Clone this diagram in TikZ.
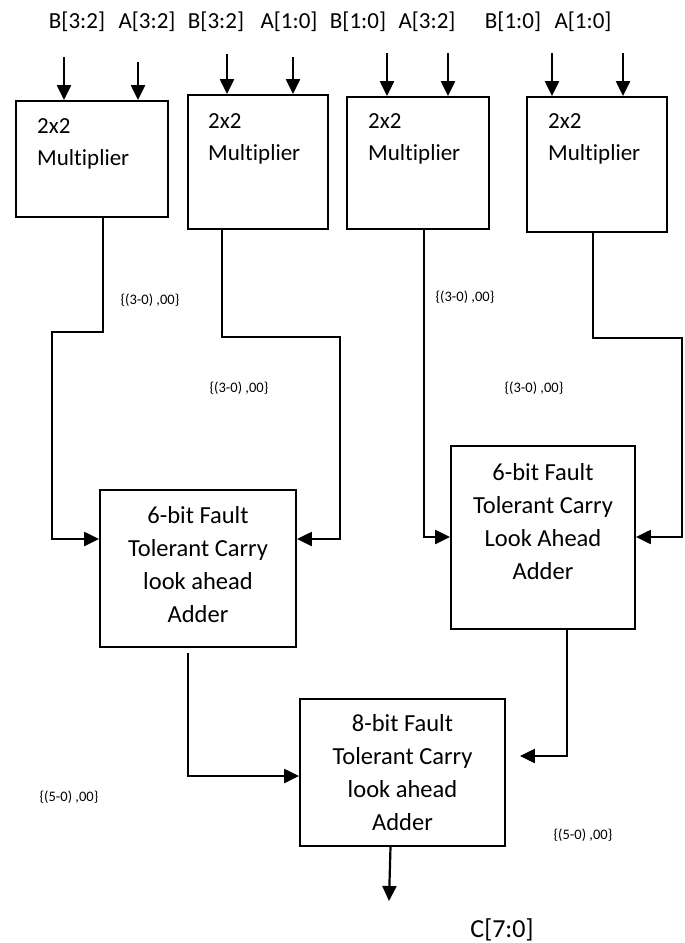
\documentclass[tikz,border=0pt]{standalone}
\usepackage{fontspec}
\setmainfont{Carlito}[Ligatures=NoCommon]
\usetikzlibrary{arrows.meta}
\begin{document}
\begin{tikzpicture}[x=1pt,y=-1pt,
  blk/.style={draw,line width=1.8pt,inner sep=0pt,minimum width=#1},
  wire/.style={line width=2.2pt},
  arr/.style={line width=2.2pt,-{Triangle[length=15pt,width=14pt]}},
  toplbl/.style={inner sep=0pt,font=\fontsize{23}{25}\selectfont},
  multxt/.style={inner sep=0pt,anchor=west,align=left,font=\fontsize{23}{32}\selectfont},
  addtxt/.style={inner sep=0pt,align=center,font=\fontsize{24.5}{33}\selectfont},
  sig/.style={inner sep=0pt,font=\fontsize{14.5}{16}\selectfont}]
\useasboundingbox (0,0) rectangle (685,943);
% multiplier blocks
\node[blk=152pt,minimum height=116pt] (m1) at (92,159) {};
\node[blk=140pt,minimum height=134pt] (m2) at (258,162) {};
\node[blk=142pt,minimum height=132pt] (m3) at (418,163) {};
\node[blk=140pt,minimum height=135pt] (m4) at (597,164.5) {};
% adders
\node[blk=196pt,minimum height=157pt] (a1) at (198,568.5) {};
\node[blk=184pt,minimum height=183pt] (a2) at (543,537.5) {};
\node[blk=205pt,minimum height=147pt] (a3) at (402.5,772.5) {};
% block texts
\node[multxt] (t1) at (37,144) {2x2\\Multiplier};
\node[multxt] (t2) at (208,139) {2x2\\Multiplier};
\node[multxt] (t3) at (368,139) {2x2\\Multiplier};
\node[multxt] (t4) at (548,139) {2x2\\Multiplier};
\node[addtxt] (ta1) at (198,565) {6-bit Fault\\Tolerant Carry\\look ahead\\Adder};
\node[addtxt] (ta2) at (543,522) {6-bit Fault\\Tolerant Carry\\Look Ahead\\Adder};
\node[addtxt] (ta3) at (402.5,773) {8-bit Fault\\Tolerant Carry\\look ahead\\Adder};
% top labels
\node[toplbl] (l1) at (77,22) {B[3:2]};
\node[toplbl] (l2) at (147,22) {A[3:2]};
\node[toplbl] (l3) at (216,22) {B[3:2]};
\node[toplbl] (l4) at (289,22) {A[1:0]};
\node[toplbl] (l5) at (358,22) {B[1:0]};
\node[toplbl] (l6) at (427,22) {A[3:2]};
\node[toplbl] (l7) at (513,22) {B[1:0]};
\node[toplbl] (l8) at (583,22) {A[1:0]};
% input arrows
\coordinate (i1) at (64,57);
\coordinate (i2) at (138,62);
\coordinate (i3) at (227,54);
\coordinate (i4) at (293,57);
\coordinate (i5) at (387,53);
\coordinate (i6) at (448,53);
\coordinate (i7) at (552,53);
\coordinate (i8) at (623,53);
\draw[arr] (i1) -- (i1 |- m1.north);
\draw[arr] (i2) -- (i2 |- m1.north);
\draw[arr] (i3) -- (i3 |- m2.north);
\draw[arr] (i4) -- (i4 |- m2.north);
\draw[arr] (i5) -- (i5 |- m3.north);
\draw[arr] (i6) -- (i6 |- m3.north);
\draw[arr] (i7) -- (i7 |- m4.north);
\draw[arr] (i8) -- (i8 |- m4.north);
% connectors
\draw[arr] ([xshift=11pt]m1.south) |- (52,332) |- ([yshift=29.5pt]a1.west);
\draw[arr] ([xshift=-36pt]m2.south) |- (340,337) |- ([yshift=29.5pt]a1.east);
\draw[arr] ([xshift=6pt]m3.south) |- ([yshift=0.5pt]a2.west);
\draw[arr] ([xshift=-4pt]m4.south) |- (682,338) |- ([yshift=0.5pt]a2.east);
\draw[arr] ([xshift=-10pt,yshift=-5pt]a1.south) |- ([yshift=-3.5pt]a3.west);
\draw[arr] ([xshift=24pt]a2.south) |- ([xshift=14pt,yshift=16.5pt]a3.east);
\coordinate (o) at (389,901);
\draw[arr] ([xshift=-12pt]a3.south) -- (o);
% signal labels
\node[sig] (s1) at (150,300) {\{(3-0) ,00\}};
\node[sig] (s2) at (239,388) {\{(3-0) ,00\}};
\node[sig] (s3) at (465,297) {\{(3-0) ,00\}};
\node[sig] (s4) at (534,388) {\{(3-0) ,00\}};
\node[sig] (s5) at (69,797) {\{(5-0) ,00\}};
\node[sig] (s6) at (583,835) {\{(5-0) ,00\}};
\node[inner sep=0pt,font=\fontsize{26}{30}\selectfont] (c) at (502,930) {C[7:0]};
\end{tikzpicture}
\end{document}
